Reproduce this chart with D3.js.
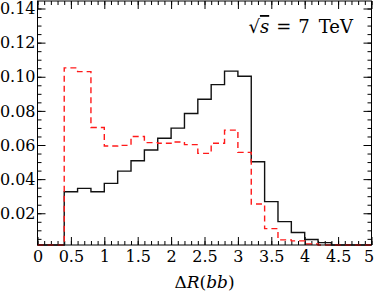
<!DOCTYPE html>
<html>
<head>
<meta charset="utf-8">
<script src="https://cdn.jsdelivr.net/npm/d3@7"></script>
<style>
  body { margin: 0; background: #fff; }
  svg text { font-family: "DejaVu Serif", "Liberation Serif", serif; }
</style>
</head>
<body>
<svg id="chart" width="374" height="293"></svg>
<script>
// bin left edges (width 0.2)
var binEdges = [0, 0.2, 0.4, 0.6, 0.8, 1.0, 1.2, 1.4, 1.6, 1.8, 2.0, 2.2, 2.4, 2.6, 2.8,
                3.0, 3.2, 3.4, 3.6, 3.8, 4.0, 4.2, 4.4, 4.6, 4.8];
var binEnd = 5.0;

// solid black histogram
var blackVals = [0, 0, 0.0326, 0.0346, 0.0326, 0.0375, 0.0447, 0.0508, 0.0571, 0.0640,
                 0.0699, 0.0785, 0.0868, 0.0954, 0.1033, 0.1003, 0.0502, 0.0268, 0.0151,
                 0.0087, 0.0046, 0.0028, 0.0012, 0.0005, 0.0002];
// dashed red histogram
var redVals = [0, 0, 0.1052, 0.1030, 0.0703, 0.0594, 0.0598, 0.0650, 0.0614, 0.0610,
               0.0618, 0.0602, 0.0551, 0.0610, 0.0687, 0.0557, 0.0254, 0.0110, 0.0044,
               0.0038, 0.0020, 0.0005, 0.0002, 0, 0];

var xTicks = [0, 0.5, 1, 1.5, 2, 2.5, 3, 3.5, 4, 4.5, 5];
var xTickLabels = ["0", "0.5", "1", "1.5", "2", "2.5", "3", "3.5", "4", "4.5", "5"];
var yTicks = [0.02, 0.04, 0.06, 0.08, 0.10, 0.12, 0.14];
var yTickLabels = ["0.02", "0.04", "0.06", "0.08", "0.10", "0.12", "0.14"];

(function() {
  var svg = d3.select("#chart");
  var mLeft = 37.5, mRight = 371.5, mTop = 1, mBottom = 245;

  var x = d3.scaleLinear().domain([0, 5]).range([mLeft, mRight]);
  var y = d3.scaleLinear().domain([0.0014, 0.1444]).range([mBottom, mTop]).clamp(true);

  // minor tick positions
  var xMinor = d3.range(0, 5.001, 0.1);
  var yMinor = d3.range(0.005, 0.1441, 0.005);

  function styleAxis(g) {
    g.select(".domain").remove();
    g.selectAll("line").attr("stroke", "#000").attr("stroke-width", 1);
    g.selectAll("text").attr("fill", "#000").style("font-size", "16px");
  }

  // minor ticks on all sides
  svg.append("g").attr("transform", "translate(0," + mBottom + ")")
    .call(d3.axisBottom(x).tickValues(xMinor).tickSize(-4).tickFormat(""))
    .call(styleAxis);
  svg.append("g").attr("transform", "translate(0," + mTop + ")")
    .call(d3.axisTop(x).tickValues(xMinor).tickSize(-4).tickFormat(""))
    .call(styleAxis);
  svg.append("g").attr("transform", "translate(" + mLeft + ",0)")
    .call(d3.axisLeft(y).tickValues(yMinor).tickSize(-4).tickFormat(""))
    .call(styleAxis);
  svg.append("g").attr("transform", "translate(" + mRight + ",0)")
    .call(d3.axisRight(y).tickValues(yMinor).tickSize(-4).tickFormat(""))
    .call(styleAxis);

  // major ticks with labels
  var xAx = svg.append("g").attr("transform", "translate(0," + mBottom + ")")
    .call(d3.axisBottom(x).tickValues(xTicks).tickSize(-8).tickPadding(5.3)
      .tickFormat(function(d, i) { return xTickLabels[i]; }))
    .call(styleAxis);
  // keep the last label inside the window
  xAx.selectAll(".tick text").filter(function(d) { return d === 5; }).attr("dx", "-3");

  svg.append("g").attr("transform", "translate(0," + mTop + ")")
    .call(d3.axisTop(x).tickValues(xTicks).tickSize(-8).tickFormat(""))
    .call(styleAxis);
  svg.append("g").attr("transform", "translate(" + mLeft + ",0)")
    .call(d3.axisLeft(y).tickValues(yTicks).tickSize(-8).tickPadding(2)
      .tickFormat(function(d, i) { return yTickLabels[i]; }))
    .call(styleAxis);
  svg.append("g").attr("transform", "translate(" + mRight + ",0)")
    .call(d3.axisRight(y).tickValues(yTicks).tickSize(-8).tickFormat(""))
    .call(styleAxis);

  // step histogram path
  function stepPoints(vals) {
    var pts = binEdges.map(function(e, i) { return [e, vals[i]]; });
    pts.push([binEnd, vals[vals.length - 1]]);
    return pts;
  }
  var step = d3.line()
    .x(function(d) { return x(d[0]); })
    .y(function(d) { return y(d[1]); })
    .curve(d3.curveStepAfter);

  svg.append("path")
    .datum(stepPoints(blackVals))
    .attr("fill", "none")
    .attr("stroke", "#111")
    .attr("stroke-width", 1.4)
    .attr("d", step);

  svg.append("path")
    .datum(stepPoints(redVals))
    .attr("fill", "none")
    .attr("stroke", "#ff1a1a")
    .attr("stroke-width", 1.4)
    .attr("stroke-dasharray", "6,4")
    .attr("d", step);

  // frame
  svg.append("rect")
    .attr("x", mLeft).attr("y", mTop)
    .attr("width", mRight - mLeft).attr("height", mBottom - mTop)
    .attr("fill", "none").attr("stroke", "#000").attr("stroke-width", 1);

  // axis title
  var title = svg.append("text")
    .attr("x", (mLeft + mRight) / 2).attr("y", 288)
    .attr("text-anchor", "middle")
    .style("font-size", "17px");
  title.append("tspan").text("Δ");
  title.append("tspan").style("font-style", "italic").text("R");
  title.append("tspan").text("(");
  title.append("tspan").style("font-style", "italic").text("bb");
  title.append("tspan").text(")");

  // energy label
  var lab = svg.append("text")
    .attr("x", 353).attr("y", 33)
    .attr("text-anchor", "end")
    .style("font-size", "18px");
  lab.append("tspan").text("√");
  lab.append("tspan").style("font-style", "italic")
    .style("text-decoration", "overline").text("s");
  lab.append("tspan").attr("dx", 7).text("=");
  lab.append("tspan").attr("dx", 7).text("7");
  lab.append("tspan").attr("dx", 9).text("TeV");
})();
</script>
</body>
</html>
